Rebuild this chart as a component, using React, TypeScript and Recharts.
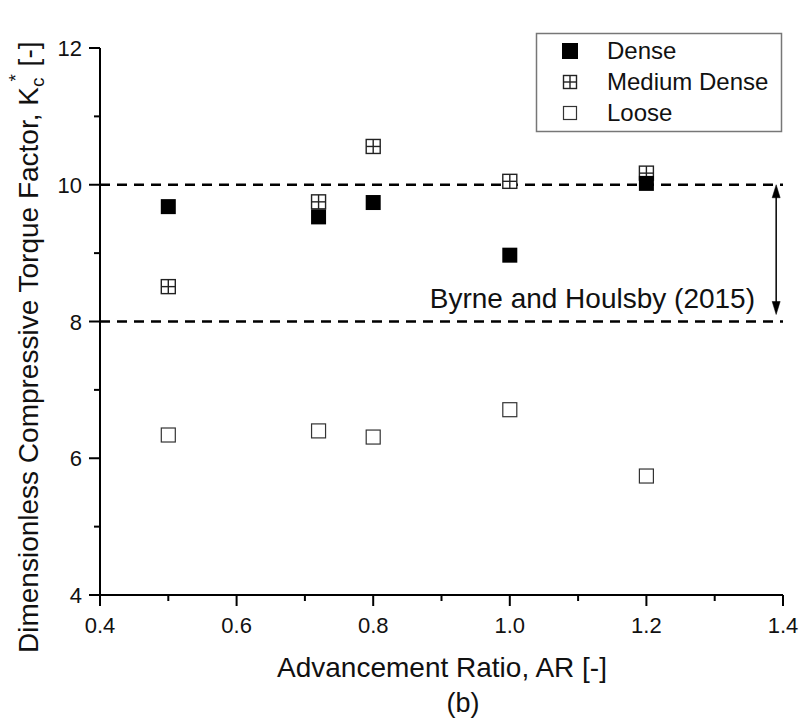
import { ScatterChart, Scatter, XAxis, YAxis, ReferenceLine } from "recharts";

const advRatio = [0.5, 0.72, 0.8, 1.0, 1.2];
const denseK = [9.68, 9.53, 9.74, 8.97, 10.02];
const mediumK = [8.51, 9.75, 10.56, 10.05, 10.17];
const looseK = [6.34, 6.4, 6.31, 6.71, 5.74];

const xTicks = [0.4, 0.5, 0.6, 0.7, 0.8, 0.9, 1.0, 1.1, 1.2, 1.3, 1.4];
const yTicks = [4, 5, 6, 7, 8, 9, 10, 11, 12];
const byrneBand = [8, 10];

const FONT = '"Liberation Sans", Arial, sans-serif';

const toPoints = (ys: number[]) => advRatio.map((x, i) => ({ x, y: ys[i] }));
const dense = toPoints(denseK);
const medium = toPoints(mediumK);
const loose = toPoints(looseK);

const DenseMark = ({ cx, cy, s = 15 }: any) => (
  <rect x={cx - s / 2} y={cy - s / 2} width={s} height={s} fill="#000" />
);

const MediumMark = ({ cx, cy, s = 14 }: any) => (
  <g stroke="#222" strokeWidth={1.4} fill="#fff">
    <rect x={cx - s / 2} y={cy - s / 2} width={s} height={s} />
    <line x1={cx} x2={cx} y1={cy - s / 2} y2={cy + s / 2} />
    <line x1={cx - s / 2} x2={cx + s / 2} y1={cy} y2={cy} />
  </g>
);

const LooseMark = ({ cx, cy, s = 14 }: any) => (
  <rect x={cx - s / 2} y={cy - s / 2} width={s} height={s} fill="#fff" stroke="#333" strokeWidth={1.2} />
);

const isMajorX = (v: number) => Math.round(v * 10) % 2 === 0;

const XTick = ({ x, y, payload }: any) => {
  const major = isMajorX(payload.value);
  return (
    <g>
      <line x1={x} x2={x} y1={y} y2={y + (major ? 11 : 6)} stroke="#000" strokeWidth={2} />
      {major && (
        <text x={x} y={y + 38} textAnchor="middle" fontSize={22} fontFamily={FONT} fill="#111">
          {payload.value.toFixed(1)}
        </text>
      )}
    </g>
  );
};

const YTick = ({ x, y, payload }: any) => {
  const major = payload.value % 2 === 0;
  return (
    <g>
      <line x1={x - (major ? 11 : 6)} x2={x} y1={y} y2={y} stroke="#000" strokeWidth={2} />
      {major && (
        <text x={x - 18} y={y + 8} textAnchor="end" fontSize={22} fontFamily={FONT} fill="#111">
          {payload.value}
        </text>
      )}
    </g>
  );
};

const DoubleArrow = ({ x1, y1, y2 }: any) => {
  const top = Math.min(y1, y2);
  const bot = Math.max(y1, y2) - 7;
  return (
    <g fill="#000" stroke="#000">
      <line x1={x1} x2={x1} y1={top + 6} y2={bot - 6} strokeWidth={1.5} />
      <polygon points={`${x1},${top} ${x1 - 4},${top + 13} ${x1 + 4},${top + 13}`} strokeWidth={0.5} />
      <polygon points={`${x1},${bot} ${x1 - 4},${bot - 13} ${x1 + 4},${bot - 13}`} strokeWidth={0.5} />
    </g>
  );
};

const legendRows = [
  { name: "Dense", Mark: DenseMark, s: 16 },
  { name: "Medium Dense", Mark: MediumMark, s: 13 },
  { name: "Loose", Mark: LooseMark, s: 13 },
];

const LegendBox = () => (
  <g fontFamily={FONT}>
    <rect x={536.5} y={33.5} width={245} height={98} fill="#fff" stroke="#777" strokeWidth={1.5} />
    {legendRows.map((r, i) => {
      const base = 59 + i * 31;
      return (
        <g key={r.name}>
          <r.Mark cx={570} cy={base - 8} s={r.s} />
          <text x={607} y={base} fontSize={24} fill="#111">
            {r.name}
          </text>
        </g>
      );
    })}
  </g>
);

export default function App() {
  return (
    <div style={{ position: "absolute", left: 0, top: 0, background: "#fff" }}>
      <ScatterChart width={803} height={724} margin={{ top: 48, right: 20, bottom: 69, left: 40 }}>
        <XAxis
          type="number"
          dataKey="x"
          domain={[0.4, 1.4]}
          ticks={xTicks}
          interval={0}
          tickSize={0}
          tickMargin={0}
          tickLine={false}
          tick={<XTick />}
          height={60}
          axisLine={{ stroke: "#000", strokeWidth: 2 }}
        />
        <YAxis
          type="number"
          dataKey="y"
          domain={[4, 12]}
          ticks={yTicks}
          interval={0}
          tickSize={0}
          tickMargin={0}
          tickLine={false}
          tick={<YTick />}
          width={60}
          axisLine={{ stroke: "#000", strokeWidth: 2 }}
        />
        {byrneBand.map((v) => (
          <ReferenceLine key={v} y={v} stroke="#000" strokeWidth={2.5} strokeDasharray="10 7" />
        ))}
        <ReferenceLine
          segment={[
            { x: 1.39, y: byrneBand[1] },
            { x: 1.39, y: byrneBand[0] },
          ]}
          shape={<DoubleArrow />}
        />
        <Scatter data={loose} shape={<LooseMark />} isAnimationActive={false} />
        <Scatter data={medium} shape={<MediumMark />} isAnimationActive={false} />
        <Scatter data={dense} shape={<DenseMark />} isAnimationActive={false} />
        <text x={755} y={308} textAnchor="end" fontSize={28} fontFamily={FONT} fill="#111">
          Byrne and Houlsby (2015)
        </text>
        <LegendBox />
        <text x={442} y={677} textAnchor="middle" fontSize={28} fontFamily={FONT} fill="#111">
          Advancement Ratio, AR [-]
        </text>
        <text x={463} y={712} textAnchor="middle" fontSize={27} fontFamily={FONT} fill="#111">
          (b)
        </text>
        <text transform="translate(38,653) rotate(-90)" fontSize={28} fontFamily={FONT} fill="#111">
          Dimensionless Compressive Torque Factor, K
          <tspan fontSize={19} dy={6}>c</tspan>
          <tspan fontSize={19} dx={-4} dy={-22}>*</tspan>
          <tspan dy={16}> [-]</tspan>
        </text>
      </ScatterChart>
    </div>
  );
}
